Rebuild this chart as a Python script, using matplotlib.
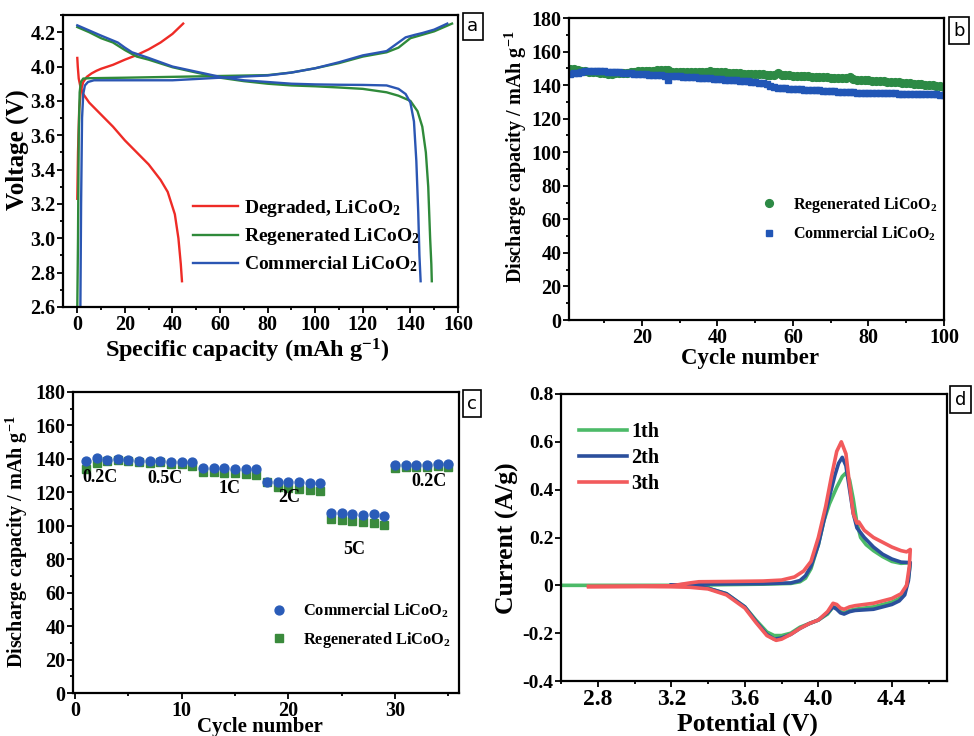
import matplotlib
matplotlib.use("Agg")
import matplotlib.pyplot as plt
from matplotlib.ticker import MultipleLocator, FuncFormatter
from matplotlib.lines import Line2D

plt.rcParams['font.family'] = ['Liberation Serif', 'DejaVu Serif']
plt.rcParams['font.weight'] = 'bold'
plt.rcParams['axes.labelweight'] = 'bold'
plt.rcParams['mathtext.fontset'] = 'custom'
plt.rcParams['mathtext.rm'] = 'Liberation Serif:bold'
plt.rcParams['mathtext.it'] = 'Liberation Serif:bold:italic'
plt.rcParams['mathtext.bf'] = 'Liberation Serif:bold'
plt.rcParams['axes.unicode_minus'] = False

# ---------------- Panel a data ----------------
deg_chg_x = [0, 0.3, 0.8, 1.5, 2.5, 4, 6, 8, 10, 15, 20, 25, 30, 35, 40, 44.5]
deg_chg_y = [3.23, 3.5, 3.75, 3.86, 3.91, 3.94, 3.96, 3.975, 3.987, 4.01, 4.04, 4.067, 4.1, 4.14, 4.19, 4.25]
deg_dis_x = [0, 0.2, 0.6, 1.2, 2.5, 5, 10, 15, 20, 25, 30, 35, 38, 41, 42.5, 43.5, 44]
deg_dis_y = [4.05, 4.0, 3.93, 3.89, 3.84, 3.79, 3.72, 3.65, 3.57, 3.5, 3.43, 3.34, 3.27, 3.14, 3.0, 2.85, 2.75]

reg_chg_x = [0, 0.3, 0.6, 1.0, 1.5, 2.5, 5, 20, 40, 60, 80, 90, 100, 110, 120, 130, 135, 140, 145, 150, 157.5]
reg_chg_y = [2.6, 3.0, 3.6, 3.85, 3.91, 3.93, 3.932, 3.935, 3.94, 3.945, 3.95, 3.965, 3.99, 4.02, 4.058, 4.083, 4.11, 4.165, 4.185, 4.205, 4.25]
reg_dis_x = [0, 5, 10, 15, 20, 25, 30, 40, 50, 60, 70, 80, 90, 100, 110, 120, 130, 135, 140, 143, 145, 146.5, 147.5, 148.3, 148.8, 149]
reg_dis_y = [4.23, 4.2, 4.165, 4.14, 4.096, 4.058, 4.04, 3.996, 3.965, 3.935, 3.915, 3.9, 3.89, 3.885, 3.878, 3.87, 3.85, 3.83, 3.8, 3.74, 3.65, 3.5, 3.3, 3.0, 2.85, 2.75]

com_chg_x = [1.3, 1.6, 2.0, 2.5, 3.2, 4.5, 7, 20, 40, 60, 80, 90, 100, 110, 120, 130, 135, 138, 142, 145, 150, 155.5]
com_chg_y = [2.6, 3.2, 3.7, 3.84, 3.89, 3.91, 3.92, 3.92, 3.92, 3.935, 3.948, 3.965, 3.99, 4.025, 4.065, 4.09, 4.14, 4.17, 4.185, 4.195, 4.215, 4.25]
com_dis_x = [0, 5, 10, 17, 20, 23, 30, 40, 50, 60, 70, 80, 90, 100, 110, 120, 130, 135, 138, 140, 141.5, 142.5, 143.3, 143.8, 144.3]
com_dis_y = [4.24, 4.21, 4.18, 4.14, 4.11, 4.083, 4.05, 4.0, 3.97, 3.94, 3.92, 3.91, 3.9, 3.896, 3.894, 3.893, 3.89, 3.87, 3.84, 3.79, 3.68, 3.45, 3.15, 2.9, 2.75]

# ---------------- Panel b data ----------------
cycles_b = list(range(1, 101))
regen_b = [149.8, 149.5, 149.0, 148.6, 148.2, 148.0, 147.8, 147.6, 147.3, 147.0,
           146.8, 146.9, 147.0, 147.1, 147.2, 147.4, 147.8, 148.1, 148.3, 148.5,
           148.6, 148.7, 148.7, 148.8, 148.8, 148.9, 149.0, 148.0, 147.8, 147.7,
           147.7, 147.8, 147.8, 147.9, 147.9, 147.8, 147.9, 148.2, 147.9, 147.8,
           148.0, 147.6, 147.5, 147.4, 147.2, 147.1, 146.9, 146.8, 146.8, 146.7,
           146.6, 146.5, 146.3, 146.2, 146.3, 147.0, 146.3, 146.0, 145.8, 145.7,
           145.6, 145.5, 145.4, 145.3, 145.1, 145.0, 144.9, 144.8, 144.7, 144.5,
           144.4, 144.3, 144.1, 144.0, 145.0, 143.6, 143.3, 143.2, 143.0, 142.8,
           142.6, 142.5, 142.3, 142.2, 142.0, 141.9, 141.7, 141.6, 141.4, 141.2,
           141.0, 140.8, 140.7, 140.5, 140.3, 140.1, 139.9, 139.6, 139.3, 139.0]
comm_b = [146.5, 147.0, 147.5, 148.0, 148.3, 148.4, 148.5, 148.4, 148.3, 148.2,
          148.0, 147.9, 147.8, 147.6, 147.5, 147.3, 147.1, 146.9, 146.7, 146.5,
          146.4, 146.3, 146.2, 146.0, 145.9, 145.6, 143.3, 145.6, 145.4, 145.2,
          145.0, 144.9, 144.7, 144.6, 144.5, 144.3, 144.1, 144.0, 143.8, 143.6,
          143.4, 143.3, 143.2, 143.0, 142.8, 142.6, 142.4, 142.2, 142.0, 141.7,
          141.4, 141.0, 140.5, 139.5, 138.6, 138.4, 138.2, 138.0, 137.9, 137.8,
          137.6, 137.5, 137.4, 137.3, 137.1, 137.0, 136.9, 136.7, 136.6, 136.5,
          136.3, 136.2, 136.0, 135.9, 135.8, 135.7, 135.6, 135.6, 135.5, 135.5,
          135.4, 135.4, 135.3, 135.3, 135.2, 135.2, 135.1, 135.0, 135.0, 134.9,
          134.9, 134.8, 134.8, 134.7, 134.7, 134.6, 134.5, 134.5, 134.4, 134.3]

# ---------------- Panel c data ----------------
cycles_c = list(range(1, 36))
comm_c = [138.6, 140.6, 139.4, 139.8, 139.6, 138.8, 138.8, 138.6, 138.0, 138.4,
          138.4, 134.6, 134.6, 134.4, 134.2, 134.2, 134.0, 126.4, 126.2, 126.0,
          126.0, 125.8, 125.8, 107.4, 107.6, 107.0, 106.4, 107.0, 105.8, 136.2,
          136.2, 136.4, 136.6, 136.8, 136.8]
regen_c = [134.2, 137.4, 139.0, 139.2, 139.0, 138.0, 137.6, 138.0, 137.0, 137.0,
           136.0, 132.4, 132.2, 131.8, 131.4, 130.8, 130.4, 126.0, 123.4, 122.6,
           122.0, 121.6, 120.8, 104.2, 103.4, 102.6, 102.0, 101.4, 100.4, 134.6,
           135.2, 135.4, 135.4, 135.6, 135.2]
rate_labels = ['0.2C', '0.5C', '1C', '2C', '5C', '0.2C']
rate_label_x = [2.3, 8.4, 14.5, 20.1, 26.2, 33.2]
rate_label_y = [129.0, 128.4, 122.0, 117.0, 86.0, 126.4]

# ---------------- Panel d data ----------------
c1_V = [2.6, 3.0, 3.3, 3.5, 3.7, 3.85, 3.9, 3.93, 3.96, 4.0, 4.03, 4.06, 4.1, 4.13, 4.15, 4.17, 4.19, 4.21, 4.23, 4.26, 4.3, 4.35, 4.4, 4.45, 4.5,
        4.49, 4.47, 4.44, 4.4, 4.3, 4.2, 4.17, 4.14, 4.12, 4.1, 4.08, 4.05, 4.0, 3.95, 3.9, 3.85, 3.8, 3.76, 3.72, 3.66, 3.6, 3.5, 3.4, 3.3, 3.2]
c1_I = [0, 0, 0, 0.003, 0.005, 0.008, 0.015, 0.03, 0.07, 0.17, 0.27, 0.34, 0.41, 0.455, 0.47, 0.44, 0.36, 0.26, 0.2, 0.17, 0.145, 0.12, 0.1, 0.092, 0.095,
        0.03, -0.03, -0.055, -0.07, -0.09, -0.1, -0.105, -0.115, -0.11, -0.095, -0.09, -0.12, -0.145, -0.16, -0.175, -0.2, -0.21, -0.21, -0.195, -0.145, -0.09, -0.035, -0.012, -0.003, 0]
c2_V = [3.2, 3.3, 3.5, 3.7, 3.85, 3.9, 3.93, 3.96, 4.0, 4.03, 4.06, 4.09, 4.11, 4.13, 4.15, 4.17, 4.19, 4.21, 4.22, 4.25, 4.3, 4.35, 4.4, 4.45, 4.5,
        4.49, 4.47, 4.44, 4.4, 4.3, 4.2, 4.17, 4.14, 4.12, 4.1, 4.08, 4.05, 4.0, 3.95, 3.9, 3.85, 3.8, 3.76, 3.72, 3.66, 3.6, 3.5, 3.4, 3.3, 3.2]
c2_I = [0, 0.005, 0.006, 0.007, 0.01, 0.02, 0.04, 0.08, 0.17, 0.27, 0.37, 0.46, 0.51, 0.535, 0.5, 0.4, 0.3, 0.24, 0.23, 0.2, 0.16, 0.13, 0.11, 0.097, 0.095,
        0.02, -0.04, -0.065, -0.08, -0.1, -0.105, -0.11, -0.12, -0.115, -0.1, -0.09, -0.115, -0.145, -0.16, -0.18, -0.205, -0.22, -0.225, -0.205, -0.15, -0.09, -0.035, -0.012, -0.003, 0]
c3_V = [2.75, 3.0, 3.2, 3.3, 3.35, 3.5, 3.7, 3.8, 3.87, 3.92, 3.96, 4.0, 4.04, 4.07, 4.1, 4.125, 4.15, 4.17, 4.19, 4.21, 4.22, 4.25, 4.3, 4.35, 4.4, 4.45, 4.48, 4.5,
        4.495, 4.48, 4.45, 4.4, 4.3, 4.2, 4.17, 4.14, 4.12, 4.1, 4.08, 4.05, 4.0, 3.95, 3.9, 3.85, 3.8, 3.77, 3.72, 3.66, 3.6, 3.5, 3.4, 3.3, 3.2, 3.0, 2.75]
c3_I = [-0.005, -0.004, -0.002, 0.01, 0.015, 0.016, 0.018, 0.022, 0.035, 0.06, 0.1, 0.2, 0.33, 0.45, 0.56, 0.6, 0.55, 0.42, 0.3, 0.26, 0.265, 0.23, 0.2, 0.18, 0.16, 0.145, 0.14, 0.15,
        0.08, 0.0, -0.035, -0.055, -0.075, -0.085, -0.09, -0.1, -0.095, -0.08, -0.075, -0.11, -0.145, -0.16, -0.18, -0.205, -0.225, -0.23, -0.21, -0.155, -0.095, -0.04, -0.015, -0.008, -0.006, -0.005, -0.005]
cv_labels = ['1th', '2th', '3th']

fig = plt.figure(figsize=(9.74, 7.36), dpi=100)

def style_ax(ax, lw=1.6, ls=14.5):
    for s in ax.spines.values():
        s.set_linewidth(lw)
    ax.tick_params(which='both', direction='out', top=False, right=False, width=1.3)
    ax.tick_params(which='major', length=4, labelsize=ls, pad=1.5)
    ax.tick_params(which='minor', length=2.5)

def panel_box(x, y, letter):
    fig.text(x, y, letter, fontsize=13, family='DejaVu Sans', fontweight='normal',
             ha='left', va='center',
             bbox=dict(boxstyle='square,pad=0.25', fc='white', ec='black', lw=1.2))

# ---- Panel a ----
axa = fig.add_axes([0.0647, 0.5829, 0.4055, 0.3967])
red = '#ee2b26'; green_a = '#2f8a3a'; blue_a = '#2b56b3'
axa.plot(deg_chg_x, deg_chg_y, color=red, lw=1.7)
axa.plot(deg_dis_x, deg_dis_y, color=red, lw=1.7)
axa.plot(reg_chg_x, reg_chg_y, color=green_a, lw=1.7)
axa.plot(reg_dis_x, reg_dis_y, color=green_a, lw=1.7)
axa.plot(com_chg_x, com_chg_y, color=blue_a, lw=1.7)
axa.plot(com_dis_x, com_dis_y, color=blue_a, lw=1.7)
axa.set_xlim(-6, 160)
axa.set_ylim(2.6, 4.3)
axa.xaxis.set_major_locator(MultipleLocator(20))
axa.xaxis.set_minor_locator(MultipleLocator(10))
axa.yaxis.set_major_locator(MultipleLocator(0.2))
axa.yaxis.set_minor_locator(MultipleLocator(0.1))
axa.yaxis.set_major_formatter(FuncFormatter(lambda v, p: f'{v:.1f}'))
style_ax(axa)
axa.set_xlabel('Specific capacity (mAh g$^{-1}$)', fontsize=17.5)
axa.set_ylabel('Voltage (V)', fontsize=18)
axa.xaxis.set_label_coords(0.466, -0.103)
axa.yaxis.set_label_coords(-0.085, 0.54)
ha = [Line2D([], [], color=red, lw=1.7), Line2D([], [], color=green_a, lw=1.7), Line2D([], [], color=blue_a, lw=1.7)]
axa.legend(ha, ['Degraded, LiCoO$_2$', 'Regenerated LiCoO$_2$', 'Commercial LiCoO$_2$'],
           loc='upper left', bbox_to_anchor=(0.31, 0.40), frameon=False, fontsize=14,
           handlelength=2.3, handletextpad=0.3, labelspacing=0.38, borderaxespad=0)
panel_box(0.4795, 0.964, 'a')

# ---- Panel b ----
axb = fig.add_axes([0.5842, 0.5652, 0.385, 0.4103])
green_b = '#2d8a45'; blue_b = '#2156b6'
axb.plot(cycles_b, regen_b, 'o', color=green_b, ms=5.6, mec=green_b, label='Regenerated LiCoO$_2$')
axb.plot(cycles_b, comm_b, 's', color=blue_b, ms=5.0, mec=blue_b, label='Commercial LiCoO$_2$')
axb.set_xlim(0.7, 100)
axb.set_ylim(0, 180)
axb.xaxis.set_major_locator(MultipleLocator(20))
axb.xaxis.set_minor_locator(MultipleLocator(10))
axb.yaxis.set_major_locator(MultipleLocator(20))
axb.yaxis.set_minor_locator(MultipleLocator(10))
style_ax(axb)
axb.set_xlabel('Cycle number', fontsize=16.5)
axb.set_ylabel('Discharge capacity / mAh g$^{-1}$', fontsize=14.5)
axb.xaxis.set_label_coords(0.483, -0.093)
axb.yaxis.set_label_coords(-0.108, 0.54)
axb.legend(loc='upper left', bbox_to_anchor=(0.49, 0.435), frameon=False, fontsize=11.5,
           handlelength=1.2, handletextpad=0.9, labelspacing=0.6, borderaxespad=0)
panel_box(0.9785, 0.9585, 'b')

# ---- Panel c ----
axc = fig.add_axes([0.075, 0.0584, 0.3963, 0.409])
blue_c = '#2a5cb8'; green_c = '#3a8a3c'
axc.plot(cycles_c, regen_c, 's', color=green_c, ms=5.4, mec=green_c, zorder=2, label='Regenerated LiCoO$_2$')
axc.plot(cycles_c, comm_c, 'o', color=blue_c, ms=6.4, mec=blue_c, zorder=3, label='Commercial LiCoO$_2$')
for t, x, y in zip(rate_labels, rate_label_x, rate_label_y):
    axc.text(x, y, t, fontsize=13, fontweight='bold', ha='center', va='center')
axc.set_xlim(-0.2, 36)
axc.set_ylim(0, 180)
axc.xaxis.set_major_locator(MultipleLocator(10))
axc.xaxis.set_minor_locator(MultipleLocator(5))
axc.yaxis.set_major_locator(MultipleLocator(20))
axc.yaxis.set_minor_locator(MultipleLocator(10))
style_ax(axc)
axc.set_xlabel('Cycle number', fontsize=15)
axc.set_ylabel('Discharge capacity / mAh g$^{-1}$', fontsize=14.5)
axc.xaxis.set_label_coords(0.484, -0.081)
axc.yaxis.set_label_coords(-0.112, 0.502)
hc, lc = axc.get_legend_handles_labels()
axc.legend(hc[::-1], lc[::-1], loc='upper left', bbox_to_anchor=(0.49, 0.325), frameon=False, fontsize=11.8,
           handlelength=1.2, handletextpad=0.9, labelspacing=0.6, borderaxespad=0)
panel_box(0.4795, 0.4515, 'c')

# ---- Panel d ----
axd = fig.add_axes([0.576, 0.0747, 0.3963, 0.39])
col_d = ['#4cba68', '#2b4f9c', '#f25a5c']
for V, I, c, lab in zip([c1_V, c2_V, c3_V], [c1_I, c2_I, c3_I], col_d, cv_labels):
    axd.plot(V, I, color=c, lw=2.6, label=lab, solid_joinstyle='round')
axd.set_xlim(2.6, 4.7)
axd.set_ylim(-0.4, 0.8)
axd.xaxis.set_major_locator(MultipleLocator(0.4))
axd.xaxis.set_minor_locator(MultipleLocator(0.2))
axd.yaxis.set_major_locator(MultipleLocator(0.2))
axd.yaxis.set_major_formatter(FuncFormatter(lambda v, p: '0' if abs(v) < 1e-9 else f'{v:.1f}'))
axd.xaxis.set_major_formatter(FuncFormatter(lambda v, p: f'{v:.1f}'))
style_ax(axd, ls=14)
axd.tick_params(axis='x', which='major', labelsize=17)
axd.set_xlabel('Potential (V)', fontsize=18.5)
axd.set_ylabel('Current (A/g)', fontsize=18.5)
axd.xaxis.set_label_coords(0.484, -0.11)
axd.yaxis.set_label_coords(-0.11, 0.498)
axd.legend(loc='upper left', bbox_to_anchor=(0.025, 0.93), frameon=False, fontsize=14.5,
           handlelength=2.4, handletextpad=0.2, labelspacing=0.3, borderaxespad=0)
panel_box(0.9805, 0.457, 'd')

fig.savefig('out.png', dpi=100)
